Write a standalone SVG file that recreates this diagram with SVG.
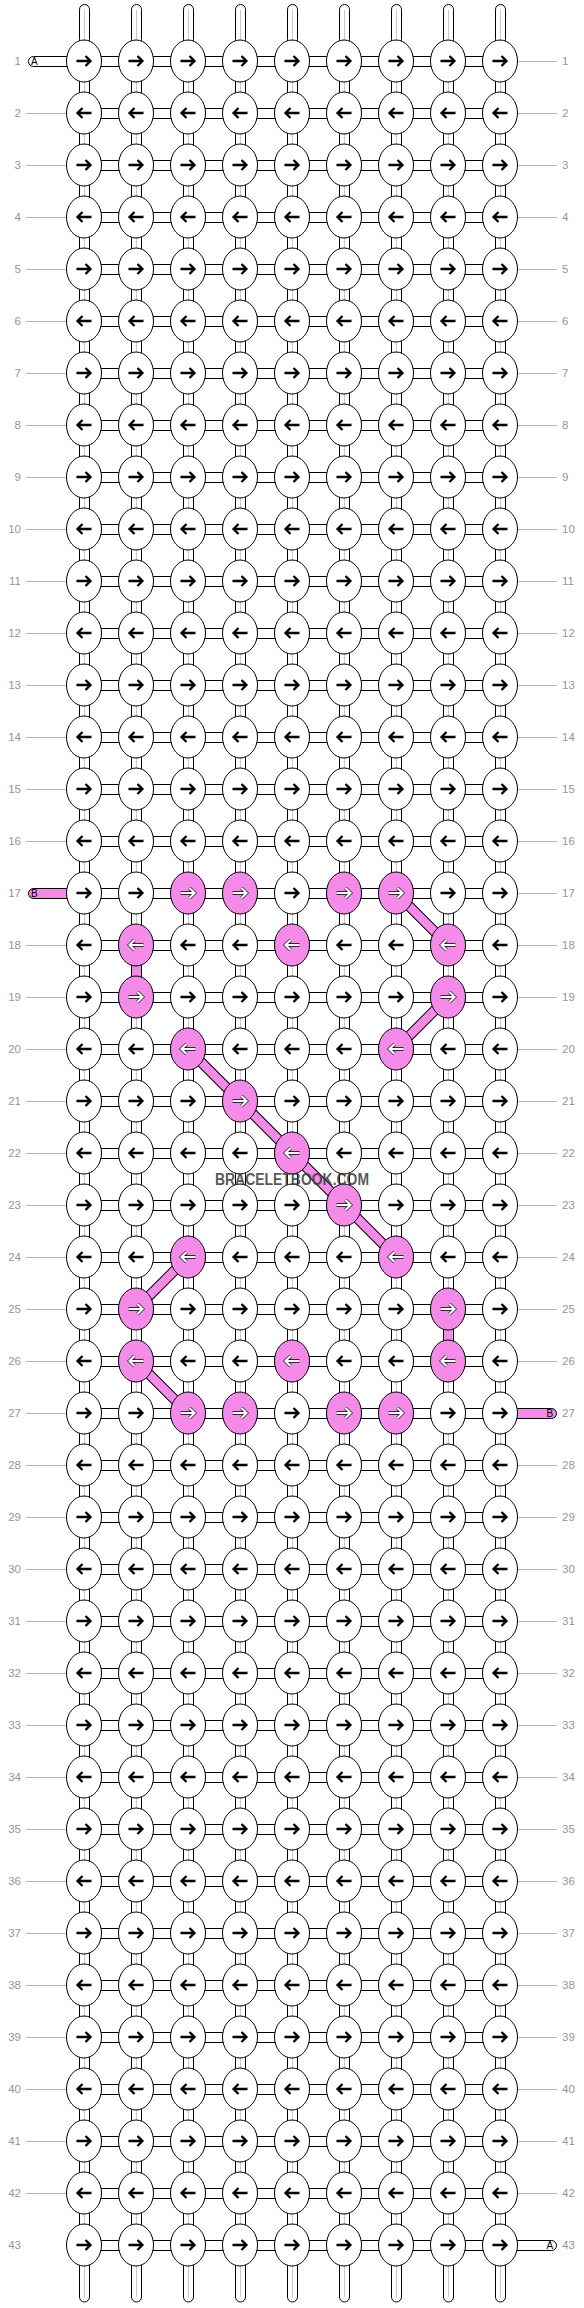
<svg xmlns="http://www.w3.org/2000/svg" xmlns:xlink="http://www.w3.org/1999/xlink" width="584" height="2308" viewBox="0 0 584 2308">
<style>
.lbl{font-family:"Liberation Sans",Arial,sans-serif;font-size:11.5px;fill:#959595}
.lbr{font-family:"Liberation Sans",Arial,sans-serif;font-size:11.5px;fill:#959595}
.tt{font-family:"Liberation Sans",Arial,sans-serif;font-size:10px;fill:#000}
.gl{fill:none;stroke:#b4b4b4;stroke-width:1}
.cn{fill:#fff;stroke:#000;stroke-width:1}
.pk{fill:#f48be9;stroke:#000;stroke-width:1}
.il{fill:none;stroke:#c8c8c8;stroke-width:1}
.ab{fill:none;stroke:#000;stroke-width:2.3}
.ao{fill:none;stroke:#000;stroke-width:3.4}
.aw{fill:none;stroke:#fff;stroke-width:2.2}
.wm{font-family:"Liberation Sans",Arial,sans-serif;font-weight:bold;font-size:16px;fill:#3a3a3a;fill-opacity:0.85}
</style>
<defs>
<path id="ar" d="M-7.5,0H6M1.5,-5L6.5,0L1.5,5"/>
<path id="al" d="M7.5,0H-6M-1.5,-5L-6.5,0L-1.5,5"/>
<g id="R"><ellipse rx="17.5" ry="21" class="cn"/><use href="#ar" class="ab"/></g>
<g id="L"><ellipse rx="17.5" ry="21" class="cn"/><use href="#al" class="ab"/></g>
<g id="PR"><ellipse rx="17.5" ry="21" class="pk"/><use href="#ar" class="ao"/><use href="#ar" class="aw"/></g>
<g id="PL"><ellipse rx="17.5" ry="21" class="pk"/><use href="#al" class="ao"/><use href="#al" class="aw"/></g>
<path id="hrow" class="cn" d="M100,-4.5h20v10h-20zm52,0h20v10h-20zm52,0h20v10h-20zm52,0h20v10h-20zm52,0h20v10h-20zm52,0h20v10h-20zm52,0h20v10h-20zm52,0h20v10h-20z"/>
<g id="vrow"><path class="cn" d="M79.5,19h10v14h-10zm52,0h10v14h-10zm52,0h10v14h-10zm52,0h10v14h-10zm52,0h10v14h-10zm52,0h10v14h-10zm52,0h10v14h-10zm52,0h10v14h-10zm52,0h10v14h-10z"/><path class="il" d="M84.5,20v12m52,-12v12m52,-12v12m52,-12v12m52,-12v12m52,-12v12m52,-12v12m52,-12v12m52,-12v12"/></g>
<g id="ts"><rect x="-4.5" y="4.5" width="10" height="40" rx="5" class="cn"/><path class="il" d="M0.5,10V44"/></g>
<g id="bs"><rect x="-4.5" y="2257" width="10" height="45" rx="5" class="cn"/><path class="il" d="M0.5,2262V2297"/></g>
</defs>
<rect width="584" height="2308" fill="#fff"/>
<g id="labels">
<path class="gl" d="M26,113.5h44m-44,52h44m-44,52h44m-44,52h44m-44,52h44m-44,52h44m-44,52h44m-44,52h44m-44,52h44m-44,52h44m-44,52h44m-44,52h44m-44,52h44m-44,52h44m-44,52h44m-44,104h44m-44,52h44m-44,52h44m-44,52h44m-44,52h44m-44,52h44m-44,52h44m-44,52h44m-44,52h44m-44,52h44m-44,52h44m-44,52h44m-44,52h44m-44,52h44m-44,52h44m-44,52h44m-44,52h44m-44,52h44m-44,52h44m-44,52h44m-44,52h44m-44,52h44m-44,52h44m-44,52h44m-44,52h44"/>
<path class="gl" d="M514,61.5h43m-43,52h43m-43,52h43m-43,52h43m-43,52h43m-43,52h43m-43,52h43m-43,52h43m-43,52h43m-43,52h43m-43,52h43m-43,52h43m-43,52h43m-43,52h43m-43,52h43m-43,52h43m-43,52h43m-43,52h43m-43,52h43m-43,52h43m-43,52h43m-43,52h43m-43,52h43m-43,52h43m-43,52h43m-43,52h43m-43,104h43m-43,52h43m-43,52h43m-43,52h43m-43,52h43m-43,52h43m-43,52h43m-43,52h43m-43,52h43m-43,52h43m-43,52h43m-43,52h43m-43,52h43m-43,52h43m-43,52h43"/>
<g class="lbl" text-anchor="end">
<text x="21" y="65">1</text><text x="21" y="117">2</text><text x="21" y="169">3</text><text x="21" y="221">4</text><text x="21" y="273">5</text><text x="21" y="325">6</text><text x="21" y="377">7</text><text x="21" y="429">8</text><text x="21" y="481">9</text><text x="21" y="533">10</text><text x="21" y="585">11</text><text x="21" y="637">12</text><text x="21" y="689">13</text><text x="21" y="741">14</text><text x="21" y="793">15</text><text x="21" y="845">16</text><text x="21" y="897">17</text><text x="21" y="949">18</text><text x="21" y="1001">19</text><text x="21" y="1053">20</text><text x="21" y="1105">21</text><text x="21" y="1157">22</text><text x="21" y="1209">23</text><text x="21" y="1261">24</text><text x="21" y="1313">25</text><text x="21" y="1365">26</text><text x="21" y="1417">27</text><text x="21" y="1469">28</text><text x="21" y="1521">29</text><text x="21" y="1573">30</text><text x="21" y="1625">31</text><text x="21" y="1677">32</text><text x="21" y="1729">33</text><text x="21" y="1781">34</text><text x="21" y="1833">35</text><text x="21" y="1885">36</text><text x="21" y="1937">37</text><text x="21" y="1989">38</text><text x="21" y="2041">39</text><text x="21" y="2093">40</text><text x="21" y="2145">41</text><text x="21" y="2197">42</text><text x="21" y="2249">43</text>
</g>
<g class="lbr">
<text x="562" y="65">1</text><text x="562" y="117">2</text><text x="562" y="169">3</text><text x="562" y="221">4</text><text x="562" y="273">5</text><text x="562" y="325">6</text><text x="562" y="377">7</text><text x="562" y="429">8</text><text x="562" y="481">9</text><text x="562" y="533">10</text><text x="562" y="585">11</text><text x="562" y="637">12</text><text x="562" y="689">13</text><text x="562" y="741">14</text><text x="562" y="793">15</text><text x="562" y="845">16</text><text x="562" y="897">17</text><text x="562" y="949">18</text><text x="562" y="1001">19</text><text x="562" y="1053">20</text><text x="562" y="1105">21</text><text x="562" y="1157">22</text><text x="562" y="1209">23</text><text x="562" y="1261">24</text><text x="562" y="1313">25</text><text x="562" y="1365">26</text><text x="562" y="1417">27</text><text x="562" y="1469">28</text><text x="562" y="1521">29</text><text x="562" y="1573">30</text><text x="562" y="1625">31</text><text x="562" y="1677">32</text><text x="562" y="1729">33</text><text x="562" y="1781">34</text><text x="562" y="1833">35</text><text x="562" y="1885">36</text><text x="562" y="1937">37</text><text x="562" y="1989">38</text><text x="562" y="2041">39</text><text x="562" y="2093">40</text><text x="562" y="2145">41</text><text x="562" y="2197">42</text><text x="562" y="2249">43</text>
</g>
</g>
<g id="connectors">
<g id="strands-top"><use href="#ts" x="84"/><use href="#ts" x="136"/><use href="#ts" x="188"/><use href="#ts" x="240"/><use href="#ts" x="292"/><use href="#ts" x="344"/><use href="#ts" x="396"/><use href="#ts" x="448"/><use href="#ts" x="500"/></g>
<g id="strands-bottom"><use href="#bs" x="84"/><use href="#bs" x="136"/><use href="#bs" x="188"/><use href="#bs" x="240"/><use href="#bs" x="292"/><use href="#bs" x="344"/><use href="#bs" x="396"/><use href="#bs" x="448"/><use href="#bs" x="500"/></g>
<g id="tails">
<rect x="28.5" y="56.5" width="50" height="10" rx="5" class="cn"/><text class="tt" x="31" y="65">A</text>
<rect x="28.5" y="888.5" width="50" height="10" rx="5" class="pk"/><text class="tt" x="31" y="897">B</text>
<rect x="506.5" y="1408.5" width="50" height="10" rx="5" class="pk"/><text class="tt" x="546.5" y="1417">B</text>
<rect x="506.5" y="2240.5" width="50" height="10" rx="5" class="cn"/><text class="tt" x="546.5" y="2249">A</text>
</g>
<g id="vertical">
<use href="#vrow" y="61"/><use href="#vrow" y="113"/><use href="#vrow" y="165"/><use href="#vrow" y="217"/><use href="#vrow" y="269"/><use href="#vrow" y="321"/><use href="#vrow" y="373"/><use href="#vrow" y="425"/><use href="#vrow" y="477"/><use href="#vrow" y="529"/><use href="#vrow" y="581"/><use href="#vrow" y="633"/><use href="#vrow" y="685"/><use href="#vrow" y="737"/><use href="#vrow" y="789"/><use href="#vrow" y="841"/><use href="#vrow" y="893"/><use href="#vrow" y="945"/><use href="#vrow" y="997"/><use href="#vrow" y="1049"/><use href="#vrow" y="1101"/><use href="#vrow" y="1153"/><use href="#vrow" y="1205"/><use href="#vrow" y="1257"/><use href="#vrow" y="1309"/><use href="#vrow" y="1361"/><use href="#vrow" y="1413"/><use href="#vrow" y="1465"/><use href="#vrow" y="1517"/><use href="#vrow" y="1569"/><use href="#vrow" y="1621"/><use href="#vrow" y="1673"/><use href="#vrow" y="1725"/><use href="#vrow" y="1777"/><use href="#vrow" y="1829"/><use href="#vrow" y="1881"/><use href="#vrow" y="1933"/><use href="#vrow" y="1985"/><use href="#vrow" y="2037"/><use href="#vrow" y="2089"/><use href="#vrow" y="2141"/><use href="#vrow" y="2193"/>
<rect x="131.5" y="964" width="10" height="14" class="pk"/>
<rect x="443.5" y="1328" width="10" height="14" class="pk"/>
</g>
<g id="horizontal">
<use href="#hrow" y="61"/><use href="#hrow" y="113"/><use href="#hrow" y="165"/><use href="#hrow" y="217"/><use href="#hrow" y="269"/><use href="#hrow" y="321"/><use href="#hrow" y="373"/><use href="#hrow" y="425"/><use href="#hrow" y="477"/><use href="#hrow" y="529"/><use href="#hrow" y="581"/><use href="#hrow" y="633"/><use href="#hrow" y="685"/><use href="#hrow" y="737"/><use href="#hrow" y="789"/><use href="#hrow" y="841"/><use href="#hrow" y="893"/><use href="#hrow" y="945"/><use href="#hrow" y="997"/><use href="#hrow" y="1049"/><use href="#hrow" y="1101"/><use href="#hrow" y="1153"/><use href="#hrow" y="1205"/><use href="#hrow" y="1257"/><use href="#hrow" y="1309"/><use href="#hrow" y="1361"/><use href="#hrow" y="1413"/><use href="#hrow" y="1465"/><use href="#hrow" y="1517"/><use href="#hrow" y="1569"/><use href="#hrow" y="1621"/><use href="#hrow" y="1673"/><use href="#hrow" y="1725"/><use href="#hrow" y="1777"/><use href="#hrow" y="1829"/><use href="#hrow" y="1881"/><use href="#hrow" y="1933"/><use href="#hrow" y="1985"/><use href="#hrow" y="2037"/><use href="#hrow" y="2089"/><use href="#hrow" y="2141"/><use href="#hrow" y="2193"/><use href="#hrow" y="2245"/>
</g>
<g id="diagonals" fill="none">
<path stroke="#000" stroke-width="10.5" d="M396,893L448,945M448,997L396,1049M188,1049L396,1257M188,1257L136,1309M136,1361L188,1413"/>
<path stroke="#f48be9" stroke-width="8.5" d="M396,893L448,945M448,997L396,1049M188,1049L396,1257M188,1257L136,1309M136,1361L188,1413"/>
</g>
</g>
<g id="nodes">
<g id="row1" transform="translate(0,61)"><g id="k1-1"><use href="#R" x="84"/></g><g id="k1-2"><use href="#R" x="136"/></g><g id="k1-3"><use href="#R" x="188"/></g><g id="k1-4"><use href="#R" x="240"/></g><g id="k1-5"><use href="#R" x="292"/></g><g id="k1-6"><use href="#R" x="344"/></g><g id="k1-7"><use href="#R" x="396"/></g><g id="k1-8"><use href="#R" x="448"/></g><g id="k1-9"><use href="#R" x="500"/></g></g>
<g id="row2" transform="translate(0,113)"><g id="k2-1"><use href="#L" x="84"/></g><g id="k2-2"><use href="#L" x="136"/></g><g id="k2-3"><use href="#L" x="188"/></g><g id="k2-4"><use href="#L" x="240"/></g><g id="k2-5"><use href="#L" x="292"/></g><g id="k2-6"><use href="#L" x="344"/></g><g id="k2-7"><use href="#L" x="396"/></g><g id="k2-8"><use href="#L" x="448"/></g><g id="k2-9"><use href="#L" x="500"/></g></g>
<g id="row3" transform="translate(0,165)"><g id="k3-1"><use href="#R" x="84"/></g><g id="k3-2"><use href="#R" x="136"/></g><g id="k3-3"><use href="#R" x="188"/></g><g id="k3-4"><use href="#R" x="240"/></g><g id="k3-5"><use href="#R" x="292"/></g><g id="k3-6"><use href="#R" x="344"/></g><g id="k3-7"><use href="#R" x="396"/></g><g id="k3-8"><use href="#R" x="448"/></g><g id="k3-9"><use href="#R" x="500"/></g></g>
<g id="row4" transform="translate(0,217)"><g id="k4-1"><use href="#L" x="84"/></g><g id="k4-2"><use href="#L" x="136"/></g><g id="k4-3"><use href="#L" x="188"/></g><g id="k4-4"><use href="#L" x="240"/></g><g id="k4-5"><use href="#L" x="292"/></g><g id="k4-6"><use href="#L" x="344"/></g><g id="k4-7"><use href="#L" x="396"/></g><g id="k4-8"><use href="#L" x="448"/></g><g id="k4-9"><use href="#L" x="500"/></g></g>
<g id="row5" transform="translate(0,269)"><g id="k5-1"><use href="#R" x="84"/></g><g id="k5-2"><use href="#R" x="136"/></g><g id="k5-3"><use href="#R" x="188"/></g><g id="k5-4"><use href="#R" x="240"/></g><g id="k5-5"><use href="#R" x="292"/></g><g id="k5-6"><use href="#R" x="344"/></g><g id="k5-7"><use href="#R" x="396"/></g><g id="k5-8"><use href="#R" x="448"/></g><g id="k5-9"><use href="#R" x="500"/></g></g>
<g id="row6" transform="translate(0,321)"><g id="k6-1"><use href="#L" x="84"/></g><g id="k6-2"><use href="#L" x="136"/></g><g id="k6-3"><use href="#L" x="188"/></g><g id="k6-4"><use href="#L" x="240"/></g><g id="k6-5"><use href="#L" x="292"/></g><g id="k6-6"><use href="#L" x="344"/></g><g id="k6-7"><use href="#L" x="396"/></g><g id="k6-8"><use href="#L" x="448"/></g><g id="k6-9"><use href="#L" x="500"/></g></g>
<g id="row7" transform="translate(0,373)"><g id="k7-1"><use href="#R" x="84"/></g><g id="k7-2"><use href="#R" x="136"/></g><g id="k7-3"><use href="#R" x="188"/></g><g id="k7-4"><use href="#R" x="240"/></g><g id="k7-5"><use href="#R" x="292"/></g><g id="k7-6"><use href="#R" x="344"/></g><g id="k7-7"><use href="#R" x="396"/></g><g id="k7-8"><use href="#R" x="448"/></g><g id="k7-9"><use href="#R" x="500"/></g></g>
<g id="row8" transform="translate(0,425)"><g id="k8-1"><use href="#L" x="84"/></g><g id="k8-2"><use href="#L" x="136"/></g><g id="k8-3"><use href="#L" x="188"/></g><g id="k8-4"><use href="#L" x="240"/></g><g id="k8-5"><use href="#L" x="292"/></g><g id="k8-6"><use href="#L" x="344"/></g><g id="k8-7"><use href="#L" x="396"/></g><g id="k8-8"><use href="#L" x="448"/></g><g id="k8-9"><use href="#L" x="500"/></g></g>
<g id="row9" transform="translate(0,477)"><g id="k9-1"><use href="#R" x="84"/></g><g id="k9-2"><use href="#R" x="136"/></g><g id="k9-3"><use href="#R" x="188"/></g><g id="k9-4"><use href="#R" x="240"/></g><g id="k9-5"><use href="#R" x="292"/></g><g id="k9-6"><use href="#R" x="344"/></g><g id="k9-7"><use href="#R" x="396"/></g><g id="k9-8"><use href="#R" x="448"/></g><g id="k9-9"><use href="#R" x="500"/></g></g>
<g id="row10" transform="translate(0,529)"><g id="k10-1"><use href="#L" x="84"/></g><g id="k10-2"><use href="#L" x="136"/></g><g id="k10-3"><use href="#L" x="188"/></g><g id="k10-4"><use href="#L" x="240"/></g><g id="k10-5"><use href="#L" x="292"/></g><g id="k10-6"><use href="#L" x="344"/></g><g id="k10-7"><use href="#L" x="396"/></g><g id="k10-8"><use href="#L" x="448"/></g><g id="k10-9"><use href="#L" x="500"/></g></g>
<g id="row11" transform="translate(0,581)"><g id="k11-1"><use href="#R" x="84"/></g><g id="k11-2"><use href="#R" x="136"/></g><g id="k11-3"><use href="#R" x="188"/></g><g id="k11-4"><use href="#R" x="240"/></g><g id="k11-5"><use href="#R" x="292"/></g><g id="k11-6"><use href="#R" x="344"/></g><g id="k11-7"><use href="#R" x="396"/></g><g id="k11-8"><use href="#R" x="448"/></g><g id="k11-9"><use href="#R" x="500"/></g></g>
<g id="row12" transform="translate(0,633)"><g id="k12-1"><use href="#L" x="84"/></g><g id="k12-2"><use href="#L" x="136"/></g><g id="k12-3"><use href="#L" x="188"/></g><g id="k12-4"><use href="#L" x="240"/></g><g id="k12-5"><use href="#L" x="292"/></g><g id="k12-6"><use href="#L" x="344"/></g><g id="k12-7"><use href="#L" x="396"/></g><g id="k12-8"><use href="#L" x="448"/></g><g id="k12-9"><use href="#L" x="500"/></g></g>
<g id="row13" transform="translate(0,685)"><g id="k13-1"><use href="#R" x="84"/></g><g id="k13-2"><use href="#R" x="136"/></g><g id="k13-3"><use href="#R" x="188"/></g><g id="k13-4"><use href="#R" x="240"/></g><g id="k13-5"><use href="#R" x="292"/></g><g id="k13-6"><use href="#R" x="344"/></g><g id="k13-7"><use href="#R" x="396"/></g><g id="k13-8"><use href="#R" x="448"/></g><g id="k13-9"><use href="#R" x="500"/></g></g>
<g id="row14" transform="translate(0,737)"><g id="k14-1"><use href="#L" x="84"/></g><g id="k14-2"><use href="#L" x="136"/></g><g id="k14-3"><use href="#L" x="188"/></g><g id="k14-4"><use href="#L" x="240"/></g><g id="k14-5"><use href="#L" x="292"/></g><g id="k14-6"><use href="#L" x="344"/></g><g id="k14-7"><use href="#L" x="396"/></g><g id="k14-8"><use href="#L" x="448"/></g><g id="k14-9"><use href="#L" x="500"/></g></g>
<g id="row15" transform="translate(0,789)"><g id="k15-1"><use href="#R" x="84"/></g><g id="k15-2"><use href="#R" x="136"/></g><g id="k15-3"><use href="#R" x="188"/></g><g id="k15-4"><use href="#R" x="240"/></g><g id="k15-5"><use href="#R" x="292"/></g><g id="k15-6"><use href="#R" x="344"/></g><g id="k15-7"><use href="#R" x="396"/></g><g id="k15-8"><use href="#R" x="448"/></g><g id="k15-9"><use href="#R" x="500"/></g></g>
<g id="row16" transform="translate(0,841)"><g id="k16-1"><use href="#L" x="84"/></g><g id="k16-2"><use href="#L" x="136"/></g><g id="k16-3"><use href="#L" x="188"/></g><g id="k16-4"><use href="#L" x="240"/></g><g id="k16-5"><use href="#L" x="292"/></g><g id="k16-6"><use href="#L" x="344"/></g><g id="k16-7"><use href="#L" x="396"/></g><g id="k16-8"><use href="#L" x="448"/></g><g id="k16-9"><use href="#L" x="500"/></g></g>
<g id="row17" transform="translate(0,893)"><g id="k17-1"><use href="#R" x="84"/></g><g id="k17-2"><use href="#R" x="136"/></g><g id="k17-3"><use href="#PR" x="188"/></g><g id="k17-4"><use href="#PR" x="240"/></g><g id="k17-5"><use href="#R" x="292"/></g><g id="k17-6"><use href="#PR" x="344"/></g><g id="k17-7"><use href="#PR" x="396"/></g><g id="k17-8"><use href="#R" x="448"/></g><g id="k17-9"><use href="#R" x="500"/></g></g>
<g id="row18" transform="translate(0,945)"><g id="k18-1"><use href="#L" x="84"/></g><g id="k18-2"><use href="#PL" x="136"/></g><g id="k18-3"><use href="#L" x="188"/></g><g id="k18-4"><use href="#L" x="240"/></g><g id="k18-5"><use href="#PL" x="292"/></g><g id="k18-6"><use href="#L" x="344"/></g><g id="k18-7"><use href="#L" x="396"/></g><g id="k18-8"><use href="#PL" x="448"/></g><g id="k18-9"><use href="#L" x="500"/></g></g>
<g id="row19" transform="translate(0,997)"><g id="k19-1"><use href="#R" x="84"/></g><g id="k19-2"><use href="#PR" x="136"/></g><g id="k19-3"><use href="#R" x="188"/></g><g id="k19-4"><use href="#R" x="240"/></g><g id="k19-5"><use href="#R" x="292"/></g><g id="k19-6"><use href="#R" x="344"/></g><g id="k19-7"><use href="#R" x="396"/></g><g id="k19-8"><use href="#PR" x="448"/></g><g id="k19-9"><use href="#R" x="500"/></g></g>
<g id="row20" transform="translate(0,1049)"><g id="k20-1"><use href="#L" x="84"/></g><g id="k20-2"><use href="#L" x="136"/></g><g id="k20-3"><use href="#PL" x="188"/></g><g id="k20-4"><use href="#L" x="240"/></g><g id="k20-5"><use href="#L" x="292"/></g><g id="k20-6"><use href="#L" x="344"/></g><g id="k20-7"><use href="#PL" x="396"/></g><g id="k20-8"><use href="#L" x="448"/></g><g id="k20-9"><use href="#L" x="500"/></g></g>
<g id="row21" transform="translate(0,1101)"><g id="k21-1"><use href="#R" x="84"/></g><g id="k21-2"><use href="#R" x="136"/></g><g id="k21-3"><use href="#R" x="188"/></g><g id="k21-4"><use href="#PR" x="240"/></g><g id="k21-5"><use href="#R" x="292"/></g><g id="k21-6"><use href="#R" x="344"/></g><g id="k21-7"><use href="#R" x="396"/></g><g id="k21-8"><use href="#R" x="448"/></g><g id="k21-9"><use href="#R" x="500"/></g></g>
<g id="row22" transform="translate(0,1153)"><g id="k22-1"><use href="#L" x="84"/></g><g id="k22-2"><use href="#L" x="136"/></g><g id="k22-3"><use href="#L" x="188"/></g><g id="k22-4"><use href="#L" x="240"/></g><g id="k22-5"><use href="#PL" x="292"/></g><g id="k22-6"><use href="#L" x="344"/></g><g id="k22-7"><use href="#L" x="396"/></g><g id="k22-8"><use href="#L" x="448"/></g><g id="k22-9"><use href="#L" x="500"/></g></g>
<g id="row23" transform="translate(0,1205)"><g id="k23-1"><use href="#R" x="84"/></g><g id="k23-2"><use href="#R" x="136"/></g><g id="k23-3"><use href="#R" x="188"/></g><g id="k23-4"><use href="#R" x="240"/></g><g id="k23-5"><use href="#R" x="292"/></g><g id="k23-6"><use href="#PR" x="344"/></g><g id="k23-7"><use href="#R" x="396"/></g><g id="k23-8"><use href="#R" x="448"/></g><g id="k23-9"><use href="#R" x="500"/></g></g>
<g id="row24" transform="translate(0,1257)"><g id="k24-1"><use href="#L" x="84"/></g><g id="k24-2"><use href="#L" x="136"/></g><g id="k24-3"><use href="#PL" x="188"/></g><g id="k24-4"><use href="#L" x="240"/></g><g id="k24-5"><use href="#L" x="292"/></g><g id="k24-6"><use href="#L" x="344"/></g><g id="k24-7"><use href="#PL" x="396"/></g><g id="k24-8"><use href="#L" x="448"/></g><g id="k24-9"><use href="#L" x="500"/></g></g>
<g id="row25" transform="translate(0,1309)"><g id="k25-1"><use href="#R" x="84"/></g><g id="k25-2"><use href="#PR" x="136"/></g><g id="k25-3"><use href="#R" x="188"/></g><g id="k25-4"><use href="#R" x="240"/></g><g id="k25-5"><use href="#R" x="292"/></g><g id="k25-6"><use href="#R" x="344"/></g><g id="k25-7"><use href="#R" x="396"/></g><g id="k25-8"><use href="#PR" x="448"/></g><g id="k25-9"><use href="#R" x="500"/></g></g>
<g id="row26" transform="translate(0,1361)"><g id="k26-1"><use href="#L" x="84"/></g><g id="k26-2"><use href="#PL" x="136"/></g><g id="k26-3"><use href="#L" x="188"/></g><g id="k26-4"><use href="#L" x="240"/></g><g id="k26-5"><use href="#PL" x="292"/></g><g id="k26-6"><use href="#L" x="344"/></g><g id="k26-7"><use href="#L" x="396"/></g><g id="k26-8"><use href="#PL" x="448"/></g><g id="k26-9"><use href="#L" x="500"/></g></g>
<g id="row27" transform="translate(0,1413)"><g id="k27-1"><use href="#R" x="84"/></g><g id="k27-2"><use href="#R" x="136"/></g><g id="k27-3"><use href="#PR" x="188"/></g><g id="k27-4"><use href="#PR" x="240"/></g><g id="k27-5"><use href="#R" x="292"/></g><g id="k27-6"><use href="#PR" x="344"/></g><g id="k27-7"><use href="#PR" x="396"/></g><g id="k27-8"><use href="#R" x="448"/></g><g id="k27-9"><use href="#R" x="500"/></g></g>
<g id="row28" transform="translate(0,1465)"><g id="k28-1"><use href="#L" x="84"/></g><g id="k28-2"><use href="#L" x="136"/></g><g id="k28-3"><use href="#L" x="188"/></g><g id="k28-4"><use href="#L" x="240"/></g><g id="k28-5"><use href="#L" x="292"/></g><g id="k28-6"><use href="#L" x="344"/></g><g id="k28-7"><use href="#L" x="396"/></g><g id="k28-8"><use href="#L" x="448"/></g><g id="k28-9"><use href="#L" x="500"/></g></g>
<g id="row29" transform="translate(0,1517)"><g id="k29-1"><use href="#R" x="84"/></g><g id="k29-2"><use href="#R" x="136"/></g><g id="k29-3"><use href="#R" x="188"/></g><g id="k29-4"><use href="#R" x="240"/></g><g id="k29-5"><use href="#R" x="292"/></g><g id="k29-6"><use href="#R" x="344"/></g><g id="k29-7"><use href="#R" x="396"/></g><g id="k29-8"><use href="#R" x="448"/></g><g id="k29-9"><use href="#R" x="500"/></g></g>
<g id="row30" transform="translate(0,1569)"><g id="k30-1"><use href="#L" x="84"/></g><g id="k30-2"><use href="#L" x="136"/></g><g id="k30-3"><use href="#L" x="188"/></g><g id="k30-4"><use href="#L" x="240"/></g><g id="k30-5"><use href="#L" x="292"/></g><g id="k30-6"><use href="#L" x="344"/></g><g id="k30-7"><use href="#L" x="396"/></g><g id="k30-8"><use href="#L" x="448"/></g><g id="k30-9"><use href="#L" x="500"/></g></g>
<g id="row31" transform="translate(0,1621)"><g id="k31-1"><use href="#R" x="84"/></g><g id="k31-2"><use href="#R" x="136"/></g><g id="k31-3"><use href="#R" x="188"/></g><g id="k31-4"><use href="#R" x="240"/></g><g id="k31-5"><use href="#R" x="292"/></g><g id="k31-6"><use href="#R" x="344"/></g><g id="k31-7"><use href="#R" x="396"/></g><g id="k31-8"><use href="#R" x="448"/></g><g id="k31-9"><use href="#R" x="500"/></g></g>
<g id="row32" transform="translate(0,1673)"><g id="k32-1"><use href="#L" x="84"/></g><g id="k32-2"><use href="#L" x="136"/></g><g id="k32-3"><use href="#L" x="188"/></g><g id="k32-4"><use href="#L" x="240"/></g><g id="k32-5"><use href="#L" x="292"/></g><g id="k32-6"><use href="#L" x="344"/></g><g id="k32-7"><use href="#L" x="396"/></g><g id="k32-8"><use href="#L" x="448"/></g><g id="k32-9"><use href="#L" x="500"/></g></g>
<g id="row33" transform="translate(0,1725)"><g id="k33-1"><use href="#R" x="84"/></g><g id="k33-2"><use href="#R" x="136"/></g><g id="k33-3"><use href="#R" x="188"/></g><g id="k33-4"><use href="#R" x="240"/></g><g id="k33-5"><use href="#R" x="292"/></g><g id="k33-6"><use href="#R" x="344"/></g><g id="k33-7"><use href="#R" x="396"/></g><g id="k33-8"><use href="#R" x="448"/></g><g id="k33-9"><use href="#R" x="500"/></g></g>
<g id="row34" transform="translate(0,1777)"><g id="k34-1"><use href="#L" x="84"/></g><g id="k34-2"><use href="#L" x="136"/></g><g id="k34-3"><use href="#L" x="188"/></g><g id="k34-4"><use href="#L" x="240"/></g><g id="k34-5"><use href="#L" x="292"/></g><g id="k34-6"><use href="#L" x="344"/></g><g id="k34-7"><use href="#L" x="396"/></g><g id="k34-8"><use href="#L" x="448"/></g><g id="k34-9"><use href="#L" x="500"/></g></g>
<g id="row35" transform="translate(0,1829)"><g id="k35-1"><use href="#R" x="84"/></g><g id="k35-2"><use href="#R" x="136"/></g><g id="k35-3"><use href="#R" x="188"/></g><g id="k35-4"><use href="#R" x="240"/></g><g id="k35-5"><use href="#R" x="292"/></g><g id="k35-6"><use href="#R" x="344"/></g><g id="k35-7"><use href="#R" x="396"/></g><g id="k35-8"><use href="#R" x="448"/></g><g id="k35-9"><use href="#R" x="500"/></g></g>
<g id="row36" transform="translate(0,1881)"><g id="k36-1"><use href="#L" x="84"/></g><g id="k36-2"><use href="#L" x="136"/></g><g id="k36-3"><use href="#L" x="188"/></g><g id="k36-4"><use href="#L" x="240"/></g><g id="k36-5"><use href="#L" x="292"/></g><g id="k36-6"><use href="#L" x="344"/></g><g id="k36-7"><use href="#L" x="396"/></g><g id="k36-8"><use href="#L" x="448"/></g><g id="k36-9"><use href="#L" x="500"/></g></g>
<g id="row37" transform="translate(0,1933)"><g id="k37-1"><use href="#R" x="84"/></g><g id="k37-2"><use href="#R" x="136"/></g><g id="k37-3"><use href="#R" x="188"/></g><g id="k37-4"><use href="#R" x="240"/></g><g id="k37-5"><use href="#R" x="292"/></g><g id="k37-6"><use href="#R" x="344"/></g><g id="k37-7"><use href="#R" x="396"/></g><g id="k37-8"><use href="#R" x="448"/></g><g id="k37-9"><use href="#R" x="500"/></g></g>
<g id="row38" transform="translate(0,1985)"><g id="k38-1"><use href="#L" x="84"/></g><g id="k38-2"><use href="#L" x="136"/></g><g id="k38-3"><use href="#L" x="188"/></g><g id="k38-4"><use href="#L" x="240"/></g><g id="k38-5"><use href="#L" x="292"/></g><g id="k38-6"><use href="#L" x="344"/></g><g id="k38-7"><use href="#L" x="396"/></g><g id="k38-8"><use href="#L" x="448"/></g><g id="k38-9"><use href="#L" x="500"/></g></g>
<g id="row39" transform="translate(0,2037)"><g id="k39-1"><use href="#R" x="84"/></g><g id="k39-2"><use href="#R" x="136"/></g><g id="k39-3"><use href="#R" x="188"/></g><g id="k39-4"><use href="#R" x="240"/></g><g id="k39-5"><use href="#R" x="292"/></g><g id="k39-6"><use href="#R" x="344"/></g><g id="k39-7"><use href="#R" x="396"/></g><g id="k39-8"><use href="#R" x="448"/></g><g id="k39-9"><use href="#R" x="500"/></g></g>
<g id="row40" transform="translate(0,2089)"><g id="k40-1"><use href="#L" x="84"/></g><g id="k40-2"><use href="#L" x="136"/></g><g id="k40-3"><use href="#L" x="188"/></g><g id="k40-4"><use href="#L" x="240"/></g><g id="k40-5"><use href="#L" x="292"/></g><g id="k40-6"><use href="#L" x="344"/></g><g id="k40-7"><use href="#L" x="396"/></g><g id="k40-8"><use href="#L" x="448"/></g><g id="k40-9"><use href="#L" x="500"/></g></g>
<g id="row41" transform="translate(0,2141)"><g id="k41-1"><use href="#R" x="84"/></g><g id="k41-2"><use href="#R" x="136"/></g><g id="k41-3"><use href="#R" x="188"/></g><g id="k41-4"><use href="#R" x="240"/></g><g id="k41-5"><use href="#R" x="292"/></g><g id="k41-6"><use href="#R" x="344"/></g><g id="k41-7"><use href="#R" x="396"/></g><g id="k41-8"><use href="#R" x="448"/></g><g id="k41-9"><use href="#R" x="500"/></g></g>
<g id="row42" transform="translate(0,2193)"><g id="k42-1"><use href="#L" x="84"/></g><g id="k42-2"><use href="#L" x="136"/></g><g id="k42-3"><use href="#L" x="188"/></g><g id="k42-4"><use href="#L" x="240"/></g><g id="k42-5"><use href="#L" x="292"/></g><g id="k42-6"><use href="#L" x="344"/></g><g id="k42-7"><use href="#L" x="396"/></g><g id="k42-8"><use href="#L" x="448"/></g><g id="k42-9"><use href="#L" x="500"/></g></g>
<g id="row43" transform="translate(0,2245)"><g id="k43-1"><use href="#R" x="84"/></g><g id="k43-2"><use href="#R" x="136"/></g><g id="k43-3"><use href="#R" x="188"/></g><g id="k43-4"><use href="#R" x="240"/></g><g id="k43-5"><use href="#R" x="292"/></g><g id="k43-6"><use href="#R" x="344"/></g><g id="k43-7"><use href="#R" x="396"/></g><g id="k43-8"><use href="#R" x="448"/></g><g id="k43-9"><use href="#R" x="500"/></g></g>
</g>
<text class="wm" x="292" y="1185" text-anchor="middle" textLength="154" lengthAdjust="spacingAndGlyphs">BRACELETBOOK.COM</text>
</svg>
